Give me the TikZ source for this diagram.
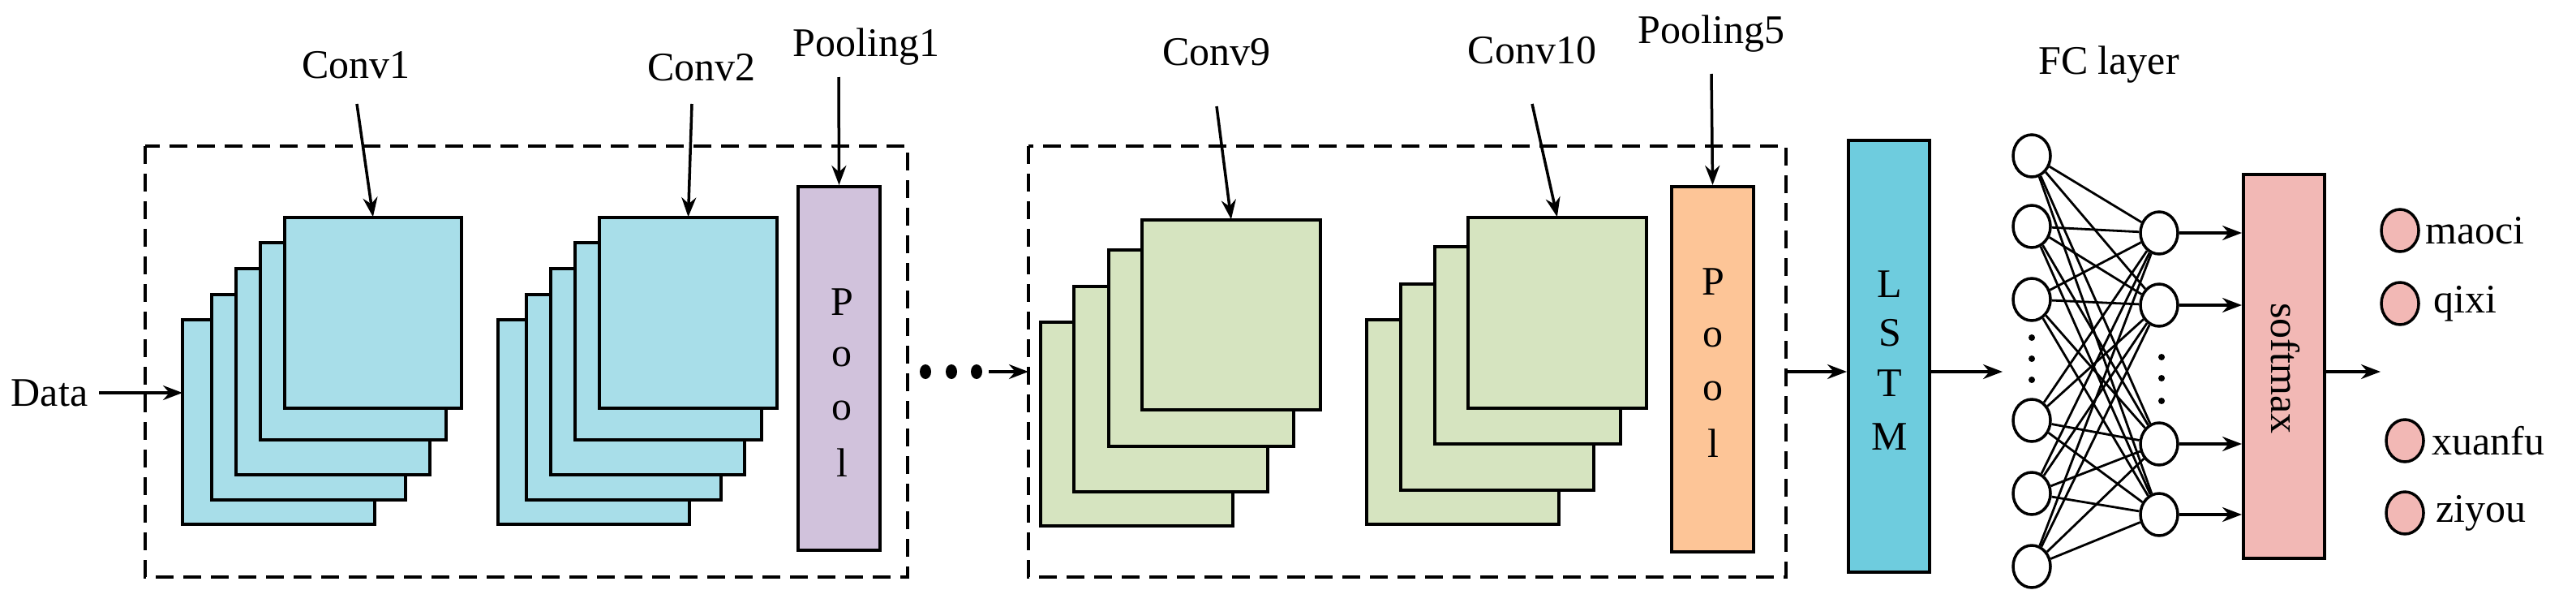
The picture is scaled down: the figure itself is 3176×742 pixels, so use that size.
\documentclass[tikz,border=0pt]{standalone}
\usepackage{fontspec}
\setmainfont{Liberation Serif}
\usetikzlibrary{arrows.meta,shapes.geometric}
\definecolor{cblue}{HTML}{A8DEE9}
\definecolor{cgreen}{HTML}{D6E4C0}
\definecolor{cpurple}{HTML}{D1C2DC}
\definecolor{corange}{HTML}{FDC597}
\definecolor{clstm}{HTML}{6ECCDE}
\definecolor{cpink}{HTML}{F2B8B5}
\tikzset{
 lbl/.style={font=\fontsize{50}{56}\selectfont, inner sep=0pt},
 fm/.style={draw=black, line width=4pt},
 arr/.style={line width=3.5pt, -{Stealth[length=24pt,width=18pt]}},
 dbox/.style={draw=black, line width=3.5pt, dash pattern=on 22pt off 12pt},
 neu/.style={draw=black, line width=3.5pt, ellipse, minimum width=46pt, minimum height=52pt, inner sep=0pt},
 outn/.style={neu, fill=cpink},
 edge/.style={line width=2.8pt},
}
\newcommand{\fmap}[6]{\draw[fm, fill=#5] (#1,#2) rectangle (#3,#4); \node[inner sep=0pt] (#6) at ({(#1+#3)/2},#2) {};}
\begin{document}
\begin{tikzpicture}[x=1pt,y=-1pt]
\useasboundingbox (0,0) rectangle (3176,742);
% dashed boxes
\draw[dbox] (179,180) rectangle (1119,711);
\draw[dbox] (1268,180) rectangle (2202,711);
% Conv1
\fmap{225}{394}{462}{646}{cblue}{c1a}
\fmap{261}{363}{500}{616}{cblue}{c1b}
\fmap{291}{331}{530}{585}{cblue}{c1c}
\fmap{321}{299}{550}{542}{cblue}{c1d}
\fmap{351}{268}{569}{503}{cblue}{c1}
% Conv2
\fmap{614}{394}{850}{646}{cblue}{c2a}
\fmap{649}{363}{889}{616}{cblue}{c2b}
\fmap{679}{331}{918}{585}{cblue}{c2c}
\fmap{709}{299}{939}{542}{cblue}{c2d}
\fmap{739}{268}{958}{503}{cblue}{c2}
% Pool1
\node[fm, fill=cpurple, minimum width=101pt, minimum height=448pt, inner sep=0pt] (p1) at (1034.5,454) {};
\foreach \t/\yy in {P/372,o/440,o/506,l/570} \node[lbl] at (1038,\yy) {\t};
% Conv9
\fmap{1283}{397}{1520}{648}{cgreen}{c9a}
\fmap{1324}{353}{1563}{606}{cgreen}{c9b}
\fmap{1367}{308}{1595}{550}{cgreen}{c9c}
\fmap{1408}{271}{1628}{505}{cgreen}{c9}
% Conv10
\fmap{1685}{394}{1922}{646}{cgreen}{c10a}
\fmap{1727}{350}{1965}{604}{cgreen}{c10b}
\fmap{1769}{304}{1998}{547}{cgreen}{c10c}
\fmap{1810}{268}{2030}{503}{cgreen}{c10}
% Pool5
\node[fm, fill=corange, minimum width=101pt, minimum height=450pt, inner sep=0pt] (p5) at (2111.5,455) {};
\foreach \t/\yy in {P/347,o/416,o/482,l/546} \node[lbl] at (2112,\yy) {\t};
% LSTM
\node[fm, fill=clstm, minimum width=100pt, minimum height=532pt, inner sep=0pt] (lstm) at (2329,439) {};
\foreach \t/\yy in {L/350,S/410,T/472,M/538} \node[lbl] at (2330,\yy) {\t};
% softmax
\node[fm, fill=cpink, minimum width=100pt, minimum height=473pt, inner sep=0pt] (sm) at (2816,451.5) {};
\node[lbl, rotate=-90] at (2818,454) {softmax};
% labels
\node[lbl] (lc1) at (439,80) {Conv1};
\node[lbl] (lc2) at (865,83) {Conv2};
\node[lbl] (lp1) at (1068,58) {Pooling1};
\node[lbl] (lc9) at (1500,64) {Conv9};
\node[lbl] (lc10) at (1889,62) {Conv10};
\node[lbl] (lp5) at (2110,42) {Pooling5};
\node[lbl] (lfc) at (2600,80) {FC layer};
\node[lbl] (data) at (61,484) {Data};
% top arrows
\coordinate (s1) at (440,128); \draw[arr] (s1) -- (c1);
\coordinate (s2) at (853,128); \draw[arr] (s2) -- (c2);
\coordinate (s3) at (1034,95); \draw[arr] (s3) -- (p1.north);
\coordinate (s4) at (1500,131); \draw[arr] (s4) -- (c9);
\coordinate (s5) at (1889,128); \draw[arr] (s5) -- (c10);
\coordinate (s6) at (2110,91); \draw[arr] (s6) -- (p5.north);
% data arrow
\coordinate (din) at (225,484);
\coordinate (dout) at (122,484);
\draw[arr] (dout) -- (din);
% dots
\foreach \xx in {1141,1173,1204} \fill (\xx,458) ellipse (7pt and 9pt);
\coordinate (da) at (1219,458); \coordinate (db) at (1268,458);
\draw[arr] (da) -- (db);
% box2 -> LSTM
\coordinate (bo) at (2202,458);
\draw[arr] (bo) -- (lstm.west |- bo);
\coordinate (lo) at (2469,458);
\draw[arr] (lstm.east |- lo) -- (lo);
% FC
\foreach \i/\yy in {1/192,2/279,3/369,4/518,5/608,6/698} \node[neu] (l\i) at (2505,\yy) {};
\foreach \j/\yy in {1/287,2/376,3/547,4/634} \node[neu] (r\j) at (2662,\yy) {};
\foreach \i in {1,...,6} \foreach \j in {1,...,4} \draw[edge] (l\i) -- (r\j);
\foreach \yy in {416,442,468} \fill (2505,\yy) circle (4pt);
\foreach \yy in {440,466,494} \fill (2665,\yy) circle (4pt);
\foreach \j in {1,...,4} \draw[arr] (r\j.east) -- (sm.west |- r\j.east);
\coordinate (so) at (2935,458);
\draw[arr] (sm.east |- so) -- (so);
% outputs
\node[outn] (o1) at (2959,284) {}; \node[lbl, anchor=west] at (2990,284) {maoci};
\node[outn] (o2) at (2959,374) {}; \node[lbl, anchor=west] at (3000,374) {qixi};
\node[outn] (o3) at (2965,543) {}; \node[lbl, anchor=west] at (2998,543) {xuanfu};
\node[outn] (o4) at (2965,632) {}; \node[lbl, anchor=west] at (3003,632) {ziyou};
\end{tikzpicture}
\end{document}
